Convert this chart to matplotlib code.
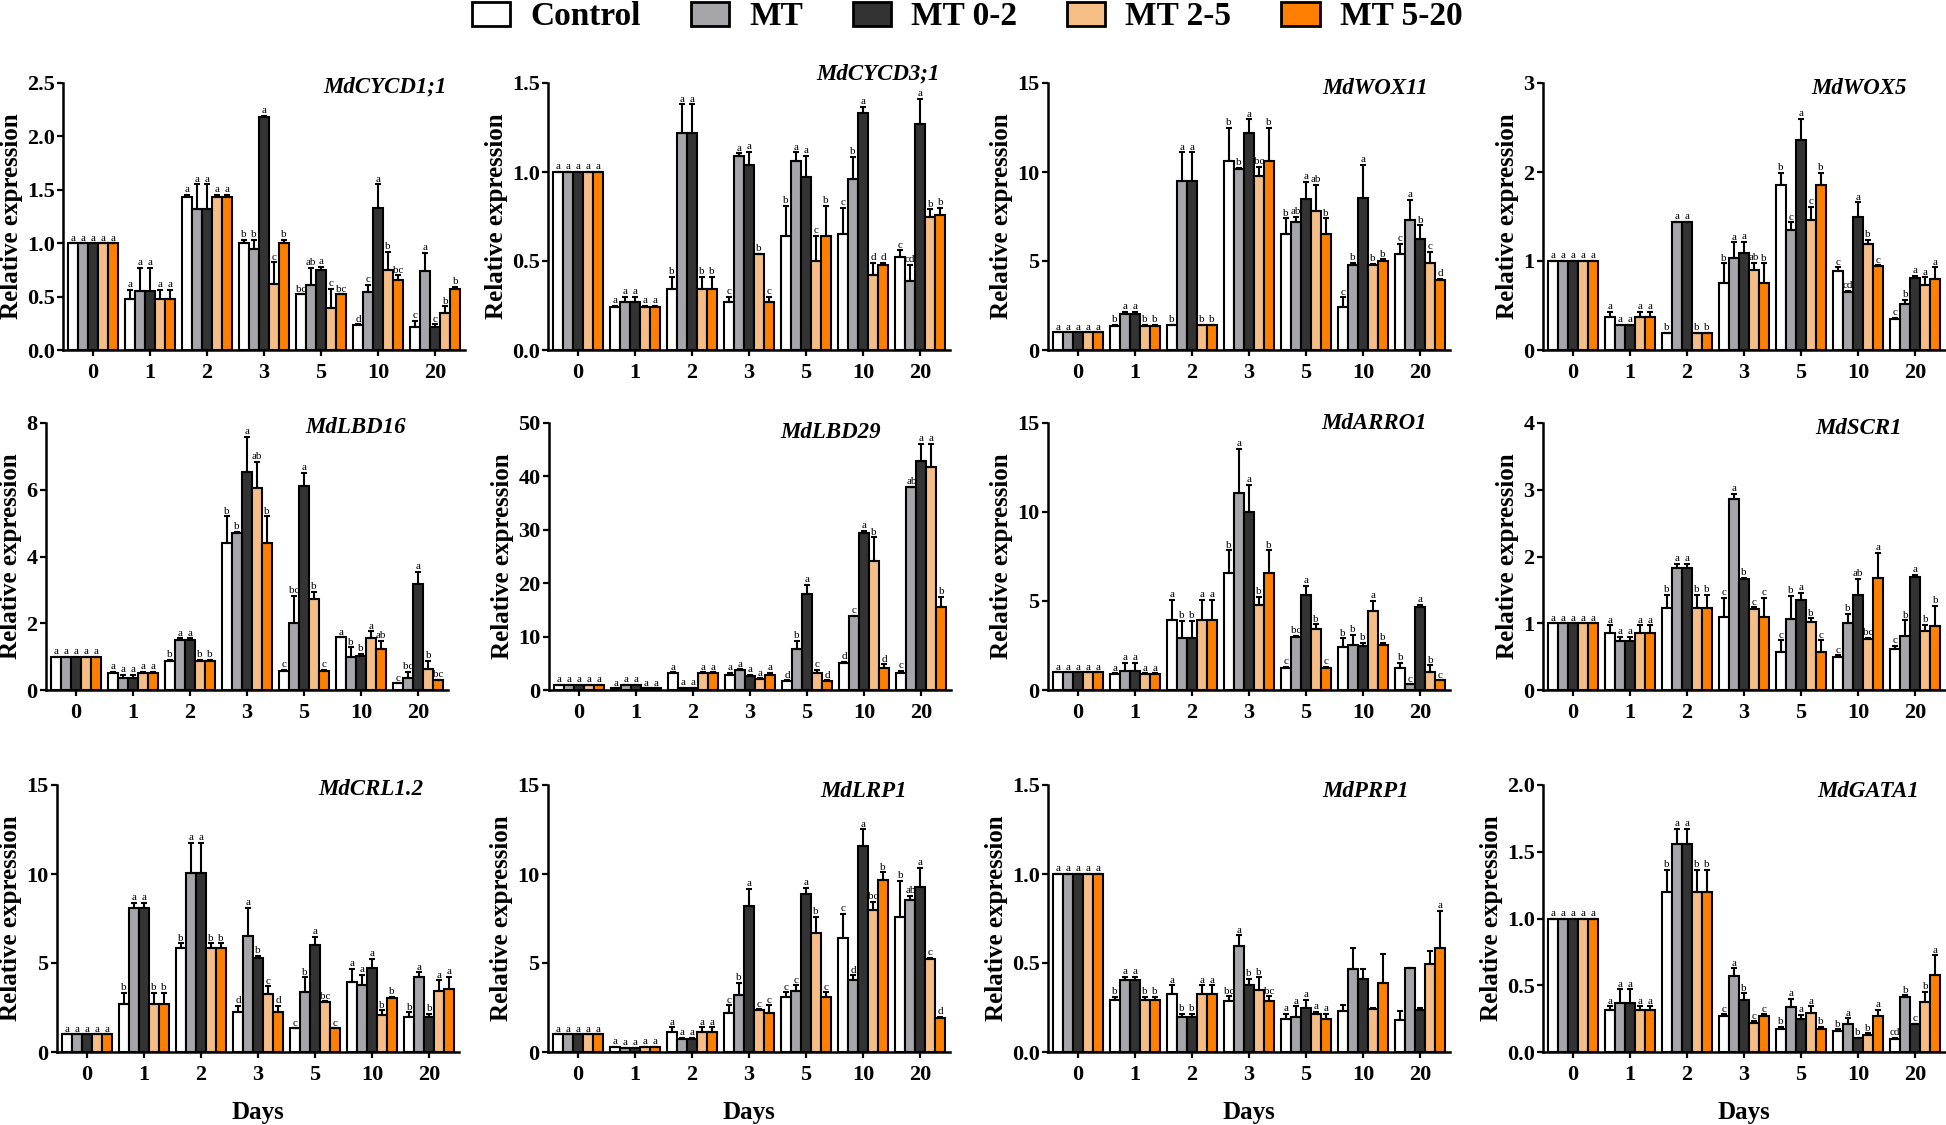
import numpy as np
import matplotlib
matplotlib.use('Agg')
import matplotlib.pyplot as plt
from matplotlib.patches import Patch

plt.rcParams['font.family'] = ['Liberation Serif', 'DejaVu Serif']

# ---------------- data ----------------
days = ['0', '1', '2', '3', '5', '10', '20']
treatments = ['Control', 'MT', 'MT 0-2', 'MT 2-5', 'MT 5-20']
colors = ['#FFFFFF', '#A6A6AA', '#333333', '#F4BE86', '#FF8000']

genes = ['MdCYCD1;1', 'MdCYCD3;1', 'MdWOX11', 'MdWOX5',
         'MdLBD16', 'MdLBD29', 'MdARRO1', 'MdSCR1',
         'MdCRL1.2', 'MdLRP1', 'MdPRP1', 'MdGATA1']

ytick_labels = [
    ['0.0', '0.5', '1.0', '1.5', '2.0', '2.5'],
    ['0.0', '0.5', '1.0', '1.5'],
    ['0', '5', '10', '15'],
    ['0', '1', '2', '3'],
    ['0', '2', '4', '6', '8'],
    ['0', '10', '20', '30', '40', '50'],
    ['0', '5', '10', '15'],
    ['0', '1', '2', '3', '4'],
    ['0', '5', '10', '15'],
    ['0', '5', '10', '15'],
    ['0.0', '0.5', '1.0', '1.5'],
    ['0.0', '0.5', '1.0', '1.5', '2.0'],
]

# rows = days (0,1,2,3,5,10,20); columns = Control, MT, MT 0-2, MT 2-5, MT 5-20
cycd11_mean = [[1, 1, 1, 1, 1], [0.48, 0.55, 0.55, 0.48, 0.48], [1.43, 1.32, 1.32, 1.43, 1.43],
               [1.00, 0.95, 2.18, 0.62, 1.00], [0.52, 0.61, 0.75, 0.39, 0.52],
               [0.23, 0.54, 1.33, 0.75, 0.66], [0.22, 0.74, 0.22, 0.35, 0.57]]
cycd11_err = [[0, 0, 0, 0, 0], [0.08, 0.22, 0.22, 0.08, 0.08], [0.02, 0.23, 0.23, 0.02, 0.02],
              [0.03, 0.08, 0.01, 0.20, 0.03], [0.0, 0.16, 0.03, 0.18, 0.0],
              [0.01, 0.07, 0.22, 0.17, 0.04], [0.05, 0.17, 0.02, 0.06, 0.02]]
cycd11_sig = ['a a a a a', 'a a a a a', 'a a a a a', 'b b a c b', 'bc ab a c bc', 'd c a b bc', 'c a c b b']

cycd31_mean = [[1, 1, 1, 1, 1], [0.24, 0.27, 0.27, 0.24, 0.24], [0.34, 1.22, 1.22, 0.34, 0.34],
               [0.27, 1.09, 1.04, 0.54, 0.27], [0.64, 1.06, 0.97, 0.50, 0.64],
               [0.65, 0.96, 1.33, 0.42, 0.48], [0.52, 0.39, 1.27, 0.75, 0.76]]
cycd31_err = [[0, 0, 0, 0, 0], [0.01, 0.03, 0.03, 0.01, 0.01], [0.07, 0.16, 0.16, 0.07, 0.07],
              [0.03, 0.015, 0.075, 0.0, 0.03], [0.17, 0.05, 0.12, 0.14, 0.17],
              [0.15, 0.125, 0.035, 0.07, 0.01], [0.04, 0.09, 0.14, 0.04, 0.04]]
cycd31_sig = ['a a a a a', 'a a a a a', 'b a a b b', 'c a a b c', 'b a a c b', 'c b a d d', 'c cd a b b']

wox11_mean = [[1, 1, 1, 1, 1], [1.37, 2.03, 2.03, 1.37, 1.37], [1.43, 9.5, 9.5, 1.4, 1.4],
              [10.6, 10.15, 12.2, 9.77, 10.6], [6.54, 7.2, 8.5, 7.8, 6.54],
              [2.4, 4.76, 8.52, 4.79, 5.0], [5.41, 7.33, 6.24, 4.9, 3.95]]
wox11_err = [[0, 0, 0, 0, 0], [0.05, 0.1, 0.1, 0.05, 0.05], [0.0, 1.6, 1.6, 0.0, 0.0],
             [1.9, 0.1, 0.75, 0.5, 1.9], [0.85, 0.28, 0.94, 1.47, 0.85],
             [0.56, 0.15, 1.88, 0.05, 0.1], [0.56, 1.1, 0.77, 0.6, 0.05]]
wox11_sig = ['a a a a a', 'b a a b b', 'b a a b b', 'b b a bc b', 'b ab a ab b', 'c b a b b', 'c a b c d']

wox5_mean = [[1, 1, 1, 1, 1], [0.375, 0.285, 0.285, 0.375, 0.375], [0.19, 1.44, 1.44, 0.19, 0.19],
             [0.755, 1.03, 1.095, 0.9, 0.755], [1.85, 1.345, 2.355, 1.46, 1.85],
             [0.89, 0.655, 1.49, 1.19, 0.94], [0.345, 0.52, 0.81, 0.725, 0.795]]
wox5_err = [[0, 0, 0, 0, 0], [0.05, 0.0, 0.0, 0.05, 0.05], [0, 0, 0, 0, 0],
            [0.22, 0.18, 0.12, 0.08, 0.22], [0.14, 0.09, 0.24, 0.15, 0.14],
            [0.04, 0.01, 0.17, 0.05, 0.01], [0.02, 0.04, 0.02, 0.09, 0.135]]
wox5_sig = ['a a a a a', 'a a a a a', 'b a a b b', 'b a a ab b', 'b c a c b', 'c cd a b c', 'c b a a a']

lbd16_mean = [[1, 1, 1, 1, 1], [0.52, 0.37, 0.37, 0.52, 0.52], [0.88, 1.5, 1.5, 0.88, 0.88],
              [4.4, 4.7, 6.53, 6.05, 4.4], [0.57, 2.02, 6.1, 2.72, 0.57],
              [1.58, 1.0, 1.03, 1.56, 1.22], [0.2, 0.35, 3.17, 0.62, 0.31]]
lbd16_err = [[0, 0, 0, 0, 0], [0.03, 0.08, 0.08, 0.03, 0.03], [0.03, 0.05, 0.05, 0.03, 0.03],
             [0.8, 0.03, 1.05, 0.79, 0.8], [0.03, 0.81, 0.4, 0.23, 0.03],
             [0.0, 0.28, 0.05, 0.2, 0.26], [0.0, 0.2, 0.38, 0.26, 0.0]]
lbd16_sig = ['a a a a a', 'a a a a a', 'b a a b b', 'b b a ab b', 'c bc a b c', 'a b b a ab', 'c bc a b bc']

lbd29_mean = [[1, 1, 1, 1, 1], [0.3, 1.0, 1.0, 0.3, 0.3], [3.1, 0.4, 0.4, 3.1, 3.1],
              [2.74, 3.74, 2.6, 2.1, 2.74], [1.68, 7.6, 18.0, 3.18, 1.68],
              [5.1, 13.84, 29.4, 24.1, 4.2], [3.24, 38.0, 42.9, 41.7, 15.6]]
lbd29_err = [[0, 0, 0, 0, 0], [0, 0, 0, 0, 0], [0.2, 0, 0, 0.2, 0.2],
             [0.5, 0.1, 0.2, 0.1, 0.5], [0.1, 1.6, 1.75, 0.6, 0.1],
             [0.2, 0.0, 0.35, 4.5, 0.6], [0.3, 0.0, 3.2, 4.4, 1.9]]
lbd29_sig = ['a a a a a', 'a a a a a', 'a a a a a', 'a a a a a', 'd b a c d', 'd c a b d', 'c ab a a b']

arro1_mean = [[1, 1, 1, 1, 1], [0.88, 1.09, 1.09, 0.88, 0.88], [3.94, 2.9, 2.9, 3.94, 3.94],
              [6.56, 11.06, 10.01, 4.78, 6.56], [1.24, 3.0, 5.34, 3.41, 1.24],
              [2.44, 2.53, 2.45, 4.42, 2.53], [1.22, 0.32, 4.69, 1.03, 0.54]]
arro1_err = [[0, 0, 0, 0, 0], [0.05, 0.45, 0.45, 0.05, 0.05], [1.12, 1.0, 1.0, 1.12, 1.12],
             [1.28, 2.5, 1.5, 0.47, 1.28], [0.05, 0.05, 0.5, 0.28, 0.05],
             [0.47, 0.56, 0.2, 0.58, 0.13], [0.32, 0.0, 0.1, 0.35, 0.0]]
arro1_sig = ['a a a a a', 'a a a a a', 'a b b a a', 'b a a b b', 'c bc a b c', 'b b b a b', 'b c a b c']

scr1_mean = [[1, 1, 1, 1, 1], [0.85, 0.74, 0.74, 0.85, 0.85], [1.225, 1.825, 1.825, 1.225, 1.225],
             [1.1, 2.86, 1.665, 1.21, 1.1], [0.565, 1.065, 1.35, 1.025, 0.565],
             [0.49, 1.0, 1.425, 0.76, 1.685], [0.615, 0.815, 1.7, 0.89, 0.96]]
scr1_err = [[0, 0, 0, 0, 0], [0.12, 0.06, 0.06, 0.12, 0.12], [0.2, 0.06, 0.06, 0.2, 0.2],
            [0.28, 0.08, 0.01, 0.03, 0.28], [0.18, 0.35, 0.11, 0.05, 0.18],
            [0.03, 0.14, 0.24, 0.02, 0.37], [0.05, 0.23, 0.02, 0.09, 0.3]]
scr1_sig = ['a a a a a', 'a a a a a', 'b a a b b', 'c a b c c', 'c b a b c', 'c b ab bc a', 'c b a b b']

crl12_mean = [[1, 1, 1, 1, 1], [2.71, 8.08, 8.08, 2.71, 2.71], [5.83, 10.08, 10.08, 5.83, 5.83],
              [2.23, 6.49, 5.27, 3.27, 2.23], [1.33, 3.37, 6.02, 2.8, 1.33],
              [3.91, 3.76, 4.71, 2.06, 3.01], [1.94, 4.19, 1.94, 3.42, 3.53]]
crl12_err = [[0, 0, 0, 0, 0], [0.6, 0.28, 0.28, 0.6, 0.6], [0.28, 1.68, 1.68, 0.28, 0.28],
             [0.37, 1.6, 0.15, 0.41, 0.37], [0.0, 0.82, 0.43, 0.05, 0.0],
             [0.75, 0.58, 0.52, 0.28, 0.1], [0.28, 0.28, 0.19, 0.6, 0.71]]
crl12_sig = ['a a a a a', 'b a a b b', 'b a a b b', 'd a b c d', 'c b a bc c', 'a a a b b', 'b a b a a']

lrp1_mean = [[1, 1, 1, 1, 1], [0.3, 0.25, 0.25, 0.3, 0.3], [1.1, 0.75, 0.75, 1.1, 1.1],
             [2.19, 3.22, 8.23, 2.34, 2.19], [3.07, 3.4, 8.85, 6.68, 3.07],
             [6.43, 4.06, 11.58, 7.95, 9.67], [7.57, 8.55, 9.26, 5.24, 1.91]]
lrp1_err = [[0, 0, 0, 0, 0], [0, 0, 0, 0, 0], [0.28, 0.05, 0.05, 0.28, 0.28],
            [0.43, 0.65, 0.93, 0.05, 0.43], [0.28, 0.34, 0.39, 0.93, 0.28],
            [1.33, 0.24, 0.93, 0.5, 0.43], [2.06, 0.24, 1.07, 0.05, 0.05]]
lrp1_sig = ['a a a a a', 'a a a a a', 'a a a a a', 'c b a c c', 'c c a b c', 'c d a bc b', 'b ab a c d']

prp1_mean = [[1, 1, 1, 1, 1], [0.294, 0.406, 0.406, 0.294, 0.294], [0.324, 0.195, 0.195, 0.324, 0.324],
             [0.284, 0.593, 0.376, 0.346, 0.284], [0.187, 0.196, 0.247, 0.215, 0.187],
             [0.23, 0.468, 0.41, 0.241, 0.387], [0.181, 0.471, 0.238, 0.494, 0.587]]
prp1_err = [[0, 0, 0, 0, 0], [0.015, 0.015, 0.015, 0.015, 0.015], [0.05, 0.02, 0.02, 0.05, 0.05],
            [0.028, 0.062, 0.035, 0.073, 0.028], [0.028, 0.06, 0.047, 0.01, 0.028],
            [0.036, 0.115, 0.058, 0.005, 0.163], [0.047, 0.0, 0.01, 0.075, 0.206]]
prp1_sig = ['a a a a a', 'b a a b b', 'a b b a a', 'bc a b b bc', 'a a a a a', '- - - - -', '- - - - a']

gata1_mean = [[1, 1, 1, 1, 1], [0.317, 0.37, 0.37, 0.317, 0.317], [1.197, 1.559, 1.559, 1.197, 1.197],
              [0.272, 0.566, 0.39, 0.215, 0.272], [0.17, 0.334, 0.25, 0.292, 0.17],
              [0.155, 0.212, 0.105, 0.13, 0.272], [0.097, 0.409, 0.21, 0.374, 0.579]]
gata1_err = [[0, 0, 0, 0, 0], [0.025, 0.1, 0.1, 0.025, 0.025], [0.167, 0.11, 0.11, 0.167, 0.167],
             [0.01, 0.06, 0.05, 0.015, 0.01], [0.02, 0.065, 0.03, 0.05, 0.02],
             [0.015, 0.04, 0.0, 0.01, 0.045], [0.01, 0.015, 0.0, 0.075, 0.145]]
gata1_sig = ['a a a a a', 'a a a a a', 'b a a b b', 'c a b c c', 'b a a a b', 'b a b b a', 'cd b c b a']

means = [cycd11_mean, cycd31_mean, wox11_mean, wox5_mean, lbd16_mean, lbd29_mean,
         arro1_mean, scr1_mean, crl12_mean, lrp1_mean, prp1_mean, gata1_mean]
errs = [cycd11_err, cycd31_err, wox11_err, wox5_err, lbd16_err, lbd29_err,
        arro1_err, scr1_err, crl12_err, lrp1_err, prp1_err, gata1_err]
sigs = [cycd11_sig, cycd31_sig, wox11_sig, wox5_sig, lbd16_sig, lbd29_sig,
        arro1_sig, scr1_sig, crl12_sig, lrp1_sig, prp1_sig, gata1_sig]

# ---------------- layout ----------------
W, H = 1946, 1125
fig = plt.figure(figsize=(W / 100, H / 100), dpi=100)
row_top = [83, 423, 785]
col_left = [[63, 548, 1048, 1543], [46, 549, 1048, 1543], [57, 548, 1048, 1543]]
AX_W, AX_H = 402, 267
title_pos = [(0.80, 0.985), (0.82, 1.034), (0.813, 0.978), (0.786, 0.978),
             (0.771, 0.985), (0.70, 0.964), (0.81, 0.998), (0.786, 0.978),
             (0.78, 0.984), (0.786, 0.975), (0.789, 0.975), (0.808, 0.975)]
bw = 0.175
LW = 1.5

for i, gene in enumerate(genes):
    r, c = divmod(i, 4)
    ax = fig.add_axes([col_left[r][c] / W, 1 - (row_top[r] + AX_H) / H, AX_W / W, AX_H / H])
    m = np.array(means[i], dtype=float).T
    e = np.array(errs[i], dtype=float).T
    sig = [s.split() for s in sigs[i]]
    x = np.arange(len(days))
    for k in range(len(treatments)):
        xs = x + (k - 2) * bw
        ax.bar(xs, m[k], width=bw, color=colors[k], edgecolor='black', linewidth=LW, zorder=2)
        ax.errorbar(xs, m[k], yerr=[np.zeros(len(days)), e[k]], fmt='none', ecolor='black',
                    elinewidth=LW, capsize=2.5, capthick=LW, zorder=3)
        for j in range(len(days)):
            lab = sig[j][k]
            if lab != '-':
                ax.annotate(lab, (xs[j], m[k][j] + e[k][j]), xytext=(0, 0.5),
                            textcoords='offset points', ha='center', va='bottom',
                            fontsize=8, zorder=4)
    yt = [float(t) for t in ytick_labels[i]]
    ax.set_ylim(yt[0], yt[-1])
    ax.set_yticks(yt)
    ax.set_yticklabels(ytick_labels[i], fontsize=16, fontweight='bold')
    ax.set_xlim(-0.52, 6.52)
    ax.set_xticks(x)
    ax.set_xticklabels(days, fontsize=16, fontweight='bold')
    ax.tick_params(axis='both', direction='out', length=4, width=1.6)
    ax.tick_params(axis='y', pad=2)
    ax.tick_params(axis='x', pad=5)
    for s in ['top', 'right']:
        ax.spines[s].set_visible(False)
    for s in ['left', 'bottom']:
        ax.spines[s].set_linewidth(1.8)
    ax.set_ylabel('Relative expression', fontsize=18, fontweight='bold', labelpad=3)
    tx, ty = title_pos[i]
    ax.text(tx, ty, gene, transform=ax.transAxes, ha='center', va='center',
            fontsize=16.5, fontweight='bold', fontstyle='italic')
    if r == 2:
        ax.set_xlabel('Days', fontsize=18, fontweight='bold', labelpad=12)

handles = [Patch(facecolor=colors[k], edgecolor='black', linewidth=2.0, label=treatments[k])
           for k in range(len(treatments))]
fig.legend(handles=handles, loc='center', bbox_to_anchor=(0.497, 0.985), ncol=5, frameon=False,
           prop={'family': 'Liberation Serif', 'weight': 'bold', 'size': 24},
           handlelength=1.15, handleheight=0.75, handletextpad=0.6, columnspacing=1.5)

fig.savefig('out.png', dpi=100)
